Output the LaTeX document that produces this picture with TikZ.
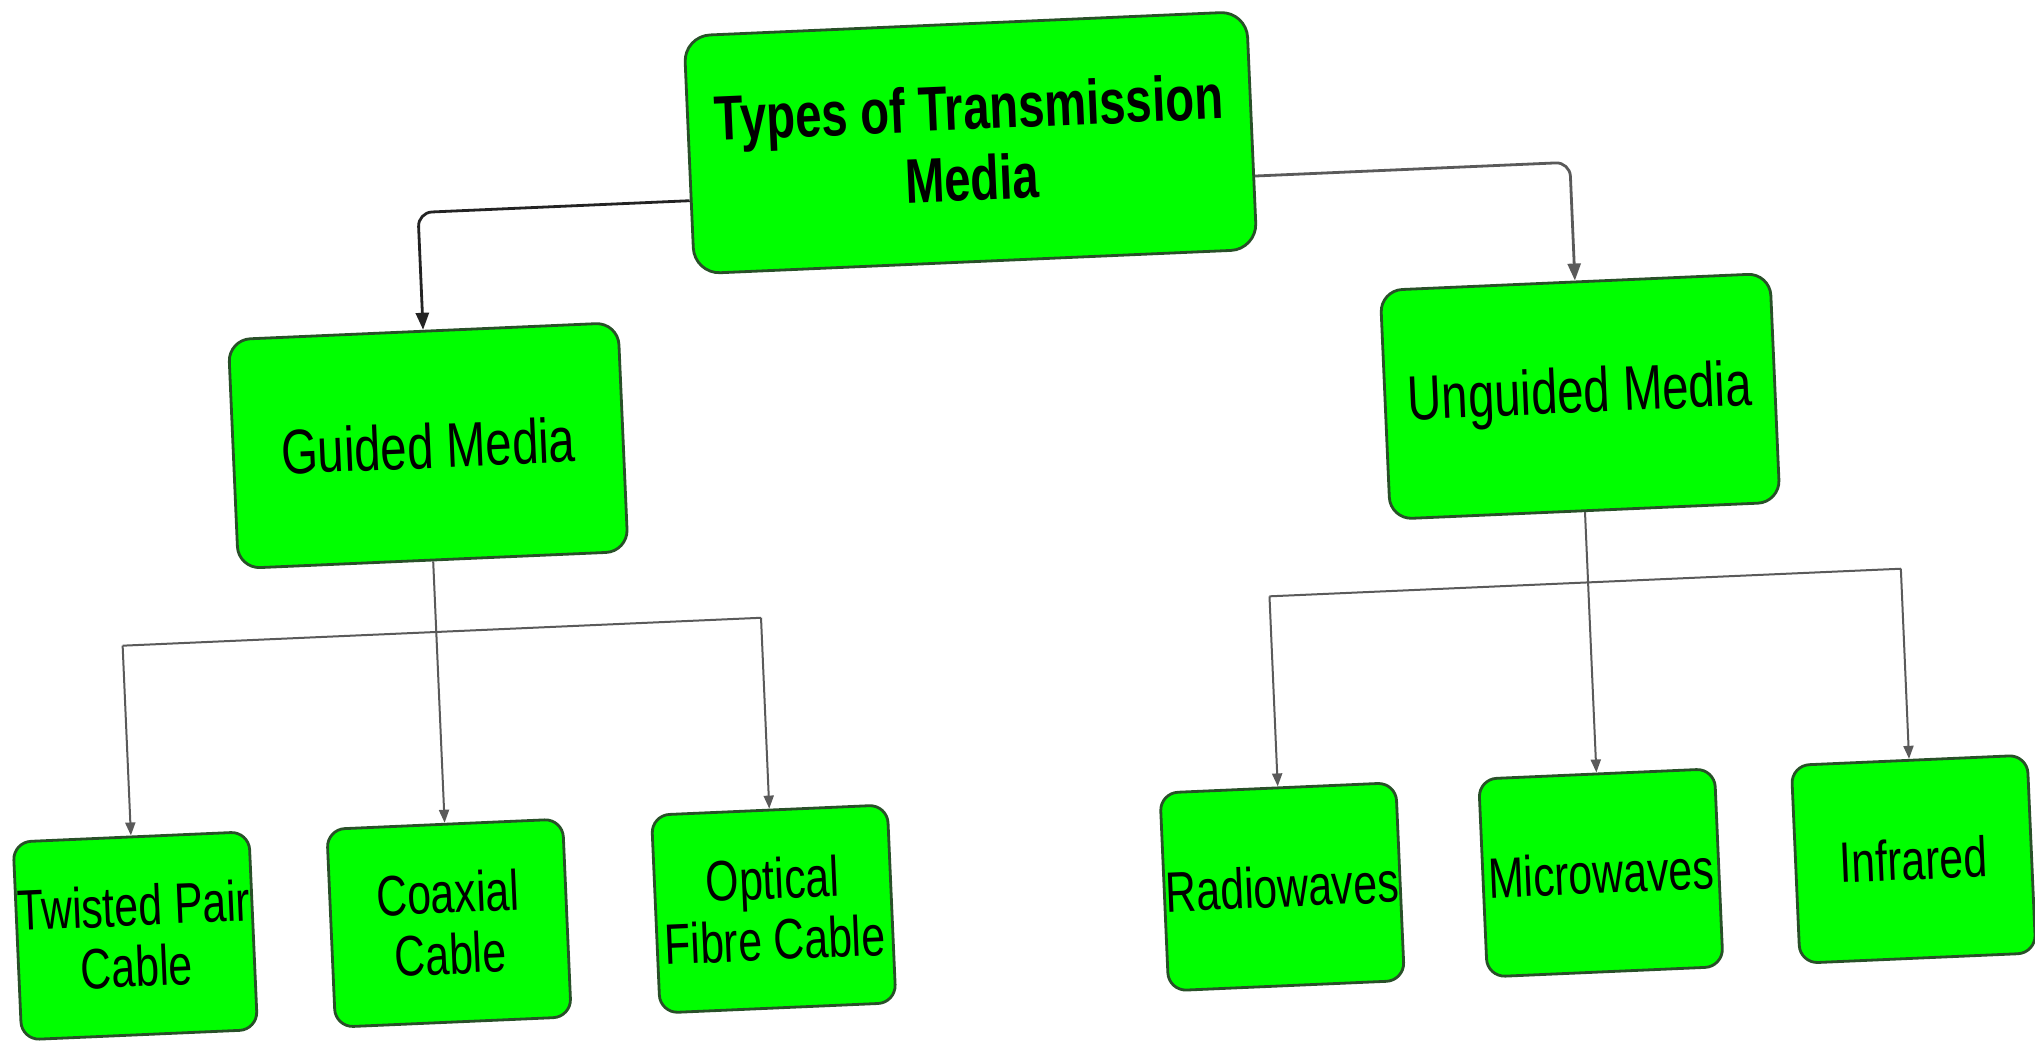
\documentclass[tikz,border=0pt]{standalone}
\usepackage{fontspec}
\newfontfamily\labfont[FakeStretch=0.75]{Liberation Sans}
\usetikzlibrary{arrows.meta,calc}
\definecolor{boxgreen}{RGB}{0,255,0}
\definecolor{boxedge}{RGB}{40,80,40}
\definecolor{linedark}{RGB}{35,35,35}
\definecolor{linegray}{RGB}{90,90,90}
\begin{document}
\begin{tikzpicture}[x=1pt,y=-1pt,
  box/.style={draw=boxedge,line width=2.8pt,fill=boxgreen,rounded corners=22pt,inner sep=0pt,align=center,transform shape},
  bigbox/.style={box,minimum width=563pt,minimum height=238pt,rounded corners=26pt,font=\labfont\bfseries\fontsize{63}{71}\selectfont},
  midbox/.style={box,minimum width=390pt,minimum height=229pt,font=\labfont\fontsize{63}{71}\selectfont},
  leafbox/.style={box,minimum width=236pt,minimum height=198pt,rounded corners=18pt,font=\labfont\fontsize{57}{61}\selectfont},
  topconn/.style={line width=2.8pt,rounded corners=14pt,-{Triangle[length=17pt,width=13pt]}},
  conn/.style={draw=linegray,line width=2pt,-{Triangle[length=13pt,width=10pt]}},
  barline/.style={draw=linegray,line width=2pt}]
\useasboundingbox[fill=white] (0,0) rectangle (2035,1042);
\begin{scope}[shift={(1017,521)},rotate=2.5,shift={(-1017,-521)}]
\node[bigbox] (top) at (987,141) {Types of Transmission\\Media};
\node[midbox] (guided) at (432,420) {Guided Media};
\node[midbox] (unguided) at (1585,421) {Unguided Media};
\node[leafbox] (twisted) at (118,897) {Twisted Pair\\Cable};
\node[leafbox] (coax) at (432,898) {Coaxial\\Cable};
\node[leafbox] (optical) at (757,898) {Optical\\Fibre Cable};
\node[leafbox] (radio) at (1266,898) {Radiowaves};
\node[leafbox] (micro) at (1585,898) {Microwaves};
\node[leafbox] (infra) at (1898,898) {Infrared};
% top connectors
\coordinate (tL) at ($(top.west)!0.38!(top.south west)$);
\coordinate (tR) at ($(top.east)!0.38!(top.south east)$);
\coordinate (cL) at (intersection of tL--tR and guided.north--guided.center);
\coordinate (cR) at (intersection of tL--tR and unguided.north--unguided.center);
\draw[topconn,draw=linedark] (tL) -- (cL) -- (guided.north);
\draw[topconn,draw=linegray] (tR) -- (cR) -- (unguided.north);
% guided children
\coordinate (gm) at ($(guided.south)!0.27!(coax.north)$);
\coordinate (gh) at ($(gm)+(top.east)-(top.west)$);
\coordinate (gL) at (intersection of gm--gh and twisted.north--twisted.center);
\coordinate (gR) at (intersection of gm--gh and optical.north--optical.center);
\draw[barline] (gL) -- (gR);
\draw[conn] (guided.south) -- (coax.north);
\draw[conn] (gL) -- (twisted.north);
\draw[conn] (gR) -- (optical.north);
% unguided children
\coordinate (um) at ($(unguided.south)!0.27!(micro.north)$);
\coordinate (uh) at ($(um)+(top.east)-(top.west)$);
\coordinate (uL) at (intersection of um--uh and radio.north--radio.center);
\coordinate (uR) at (intersection of um--uh and infra.north--infra.center);
\draw[barline] (uL) -- (uR);
\draw[conn] (unguided.south) -- (micro.north);
\draw[conn] (uL) -- (radio.north);
\draw[conn] (uR) -- (infra.north);
\end{scope}
\end{tikzpicture}
\end{document}
